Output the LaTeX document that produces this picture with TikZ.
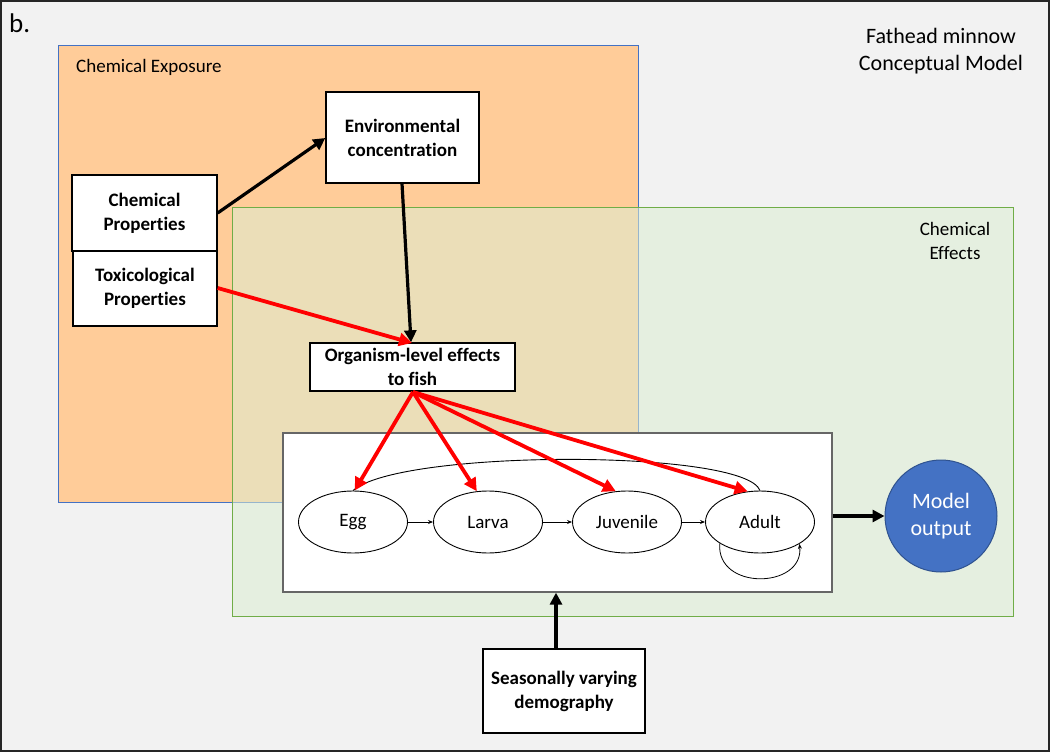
\documentclass[tikz,border=0pt]{standalone}
\usepackage{fontspec}
\setmainfont{Carlito}[Ligatures={NoCommon}]
\usetikzlibrary{arrows.meta,shapes.geometric}
\definecolor{bgc}{HTML}{F2F2F2}
\definecolor{expofill}{HTML}{FFCC99}
\definecolor{expoline}{HTML}{4472C4}
\definecolor{effline}{HTML}{70AD47}
\definecolor{efffill}{HTML}{DCEDD3}
\definecolor{outfill}{HTML}{4472C4}
\definecolor{outline}{HTML}{2F528F}
\definecolor{redarr}{HTML}{FF0000}
\begin{document}
\begin{tikzpicture}[x=1pt,y=-1pt,
  boxtext/.style={font=\fontsize{19}{24}\selectfont\bfseries, align=center},
  whitebox/.style={draw=black, line width=1.3pt, fill=white, inner sep=0pt, boxtext},
  stage/.style={ellipse, draw=black, line width=0.9pt, fill=white, minimum width=109, minimum height=62, inner sep=0pt, font=\fontsize{19}{22}\selectfont},
  blackarr/.style={line width=3.2pt, -{Triangle[length=12pt,width=12pt]}},
  redarrow/.style={draw=redarr, line width=3.8pt, -{Triangle[length=13pt,width=13pt]}},
  thinarr/.style={line width=0.8pt, -{Stealth[length=5pt,width=4pt]}},
  label/.style={inner sep=0pt, align=center}
]
\path[use as bounding box] (0,0) rectangle (1050,752);
\fill[bgc] (0,0) rectangle (1050,752);
\draw[black!85, line width=2pt] (1,1) rectangle (1049,751);

\node[label, anchor=south west, font=\fontsize{27}{30}\selectfont] (blabel) at (9,33) {b.};

% Chemical Exposure region
\node[draw=expoline, fill=expofill, line width=1pt, minimum width=580, minimum height=456, inner sep=0pt] (expo) at (348,274) {};
\node[label, anchor=west, font=\fontsize{19}{22}\selectfont] (expolabel) at (76,67) {Chemical Exposure};

% Chemical Effects region
\node[draw=effline, fill=efffill, fill opacity=0.55, line width=1pt, minimum width=781, minimum height=409, inner sep=0pt] (eff) at (622.5,411.5) {};
\node[label, font=\fontsize{19}{24}\selectfont] (efflabel) at (955,241) {Chemical\\Effects};

\node[label, font=\fontsize{22}{27}\selectfont] (title) at (941,51) {Fathead minnow\\Conceptual Model};

% boxes
\node[whitebox, minimum width=153, minimum height=91] (env) at (402.5,137.5) {Environmental\\concentration};
\node[whitebox, minimum width=145, minimum height=76] (chem) at (144.5,213) {Chemical\\Properties};
\node[whitebox, minimum width=144, minimum height=75] (tox) at (145,288.5) {Toxicological\\Properties};
\node[whitebox, minimum width=205, minimum height=48] (org) at (412.5,367) {Organism-level effects\\to fish};
\node[draw=black!60, line width=1.3pt, fill=white, minimum width=549, minimum height=159, inner sep=0pt] (life) at (557.5,512.5) {};
\node[whitebox, minimum width=162, minimum height=84] (seas) at (564,691) {Seasonally varying\\demography};
\node[circle, draw=outline, line width=1pt, fill=outfill, minimum size=112, inner sep=0pt, text=white, font=\fontsize{22}{27}\selectfont, align=center] (out) at (941,516) {Model\\output};

% life stages
\node[stage] (egg) at (353,522) {Egg};
\node[stage] (larva) at (488,522) {Larva};
\node[stage] (juv) at (627,522) {Juvenile};
\node[stage] (adult) at (760,522) {Adult};

\draw[thinarr] (egg) -- (larva);
\draw[thinarr] (larva) -- (juv);
\draw[thinarr] (juv) -- (adult);
\draw[line width=0.9pt] (egg.north) .. controls (400,449) and (745,449) .. (adult.north);
\draw[thinarr] (adult.208) .. controls (716,591) and (804,589) .. (adult.331);

% connectors
\coordinate (orgbot) at (413,392);
\draw[blackarr] (chem.east |- 0,213) -- (env.west |- 0,138);
\draw[blackarr] (env.south -| 402,0) -- (org.north -| 411,0);
\draw[redarrow] (tox.east |- 0,288) -- (412,343);
\draw[redarrow] (orgbot) -- (egg.87);
\draw[redarrow] (orgbot) -- (larva.110);
\draw[redarrow] (orgbot) -- (juv.110);
\draw[redarrow] (orgbot) -- (adult.112);
\draw[blackarr] (life.east |- out.west) -- (out.west);
\draw[blackarr] (seas.north -| 556,0) -- (life.south -| 556,0);
\end{tikzpicture}
\end{document}
